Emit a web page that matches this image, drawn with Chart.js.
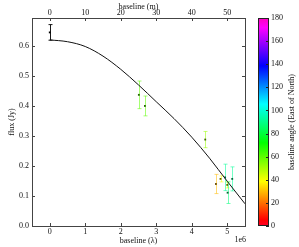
<!DOCTYPE html>
<html>
<head>
<meta charset="utf-8">
<script src="https://cdn.jsdelivr.net/npm/chart.js@4"></script>
<style>
  html, body { margin: 0; padding: 0; background: #fff; }
  #wrap { width: 299px; height: 247px; }
</style>
</head>
<body>
<div id="wrap"><canvas id="uvplot"></canvas></div>
<script>
// measured visibilities
const baseline = [0, 2.51e6, 2.68e6, 4.38e6, 4.68e6, 4.81e6, 4.94e6, 5.00e6, 5.01e6, 5.14e6];
const flux = [0.645, 0.437, 0.400, 0.288, 0.140, 0.157, 0.162, 0.137, 0.111, 0.157];
const fluxErr = [0.026, 0.046, 0.033, 0.027, 0.032, 0.010, 0.044, 0.010, 0.036, 0.040];
const angle = [null, 60, 60, 52, 30, 40, 92, 42, 88, 92];

// model curve
const modelBaseline = [0, 0.5e6, 1e6, 1.5e6, 2e6, 2.5e6, 3e6, 3.5e6, 4e6, 4.5e6, 5e6, 5.5e6];
const modelFlux = [0.620, 0.614, 0.598, 0.566, 0.522, 0.470, 0.414, 0.358, 0.296, 0.226, 0.149, 0.074];

// ticks
const xTicks = [0, 1e6, 2e6, 3e6, 4e6, 5e6];
const xTopTicks = [0, 10, 20, 30, 40, 50];
const yTicks = [0, 0.1, 0.2, 0.3, 0.4, 0.5, 0.6];
const angleTicks = [0, 20, 40, 60, 80, 100, 120, 140, 160, 180];

// gist_rainbow-like colormap
const cmap = [
  [0, [255, 0, 41]], [0.03, [255, 0, 0]], [0.215, [255, 255, 0]], [0.4, [0, 255, 0]],
  [0.586, [0, 255, 255]], [0.77, [0, 0, 255]], [0.954, [255, 0, 255]], [1, [255, 0, 191]]
];

function cmapRgb(t) {
  for (let i = 1; i < cmap.length; i++) {
    if (t <= cmap[i][0]) {
      const [t0, c0] = cmap[i - 1], [t1, c1] = cmap[i];
      const f = (t - t0) / (t1 - t0);
      return c0.map((c, k) => Math.round(c + (c1[k] - c) * f));
    }
  }
  return cmap[cmap.length - 1][1];
}

function barColor(a) {
  if (a === null) return 'rgba(0,0,0,0.9)';
  const c = cmapRgb(a / 180);
  return `rgba(${c[0]},${c[1]},${c[2]},0.55)`;
}

function markColor(a) {
  if (a === null) return '#000';
  const c = cmapRgb(a / 180).map(v => Math.round(v * 0.4));
  return `rgb(${c[0]},${c[1]},${c[2]})`;
}

const serif = { family: 'Liberation Serif', size: 8 };

// fixed box sizes, no extra label margins
function fixBox(w, h) {
  return s => {
    if (w !== null) s.width = w;
    if (h !== null) s.height = h;
    s.paddingTop = s.paddingBottom = s.paddingLeft = s.paddingRight = 0;
  };
}

const errorBars = {
  id: 'errorBars',
  beforeDatasetsDraw(chart) {
    const { ctx, scales: { x, y } } = chart;
    ctx.save();
    ctx.lineWidth = 1;
    baseline.forEach((b, i) => {
      const px = Math.round(x.getPixelForValue(b)) + 0.5;
      const top = y.getPixelForValue(flux[i] + fluxErr[i]);
      const bot = y.getPixelForValue(flux[i] - fluxErr[i]);
      ctx.strokeStyle = barColor(angle[i]);
      ctx.beginPath();
      ctx.moveTo(px, top); ctx.lineTo(px, bot);
      ctx.moveTo(px - 2, top); ctx.lineTo(px + 2, top);
      ctx.moveTo(px - 2, bot); ctx.lineTo(px + 2, bot);
      ctx.stroke();
    });
    ctx.restore();
  }
};

const frame = {
  id: 'frame',
  afterDraw(chart) {
    const { ctx, chartArea: a, scales: { x, x2, y, cb } } = chart;
    ctx.save();
    ctx.strokeStyle = '#444';
    ctx.lineWidth = 1;
    ctx.strokeRect(Math.round(a.left) + 0.5, Math.round(a.top) + 0.5,
      Math.round(a.right - a.left), Math.round(a.bottom - a.top));

    // inward ticks on all four sides
    ctx.beginPath();
    xTicks.forEach(v => {
      const px = Math.round(x.getPixelForValue(v)) + 0.5;
      ctx.moveTo(px, a.bottom); ctx.lineTo(px, a.bottom - 3);
    });
    xTopTicks.forEach(v => {
      const px = Math.round(x2.getPixelForValue(v)) + 0.5;
      ctx.moveTo(px, a.top); ctx.lineTo(px, a.top + 3);
    });
    yTicks.forEach(v => {
      const py = Math.round(y.getPixelForValue(v)) + 0.5;
      ctx.moveTo(a.left, py); ctx.lineTo(a.left + 3, py);
      ctx.moveTo(a.right, py); ctx.lineTo(a.right - 3, py);
    });
    ctx.stroke();

    // colorbar
    const cbL = a.right + 13, cbR = a.right + 24;
    const grad = ctx.createLinearGradient(0, cb.bottom, 0, cb.top);
    cmap.forEach(([t, c]) => grad.addColorStop(t, `rgb(${c[0]},${c[1]},${c[2]})`));
    ctx.fillStyle = grad;
    ctx.fillRect(cbL, cb.top, cbR - cbL, cb.bottom - cb.top);
    ctx.strokeStyle = '#222';
    ctx.strokeRect(cbL + 0.5, Math.round(cb.top) + 0.5, cbR - cbL - 1, Math.round(cb.bottom - cb.top) - 1);
    ctx.beginPath();
    angleTicks.forEach(v => {
      const py = Math.round(cb.getPixelForValue(v)) + 0.5;
      ctx.moveTo(cbR, py); ctx.lineTo(cbR - 3, py);
    });
    ctx.stroke();

    // colorbar label, reads bottom to top
    ctx.fillStyle = '#111';
    ctx.font = '8px "Liberation Serif"';
    ctx.textAlign = 'center';
    ctx.textBaseline = 'middle';
    ctx.translate(292, (cb.top + cb.bottom) / 2);
    ctx.rotate(-Math.PI / 2);
    ctx.fillText('baseline angle (East of North)', 0, 0);
    ctx.restore();

    // offset text for the bottom axis
    ctx.save();
    ctx.fillStyle = '#111';
    ctx.font = '8px "Liberation Serif"';
    ctx.textAlign = 'right';
    ctx.textBaseline = 'middle';
    ctx.fillText('1e6', a.right + 1, 240);
    ctx.restore();
  }
};

new Chart(document.getElementById('uvplot'), {
  type: 'scatter',
  data: {
    datasets: [
      {
        label: 'model',
        data: modelBaseline.map((b, i) => ({ x: b, y: modelFlux[i] })),
        showLine: true,
        borderColor: '#111',
        borderWidth: 1,
        pointRadius: 0,
        cubicInterpolationMode: 'monotone'
      },
      {
        label: 'data',
        data: baseline.map((b, i) => ({ x: b, y: flux[i] })),
        pointRadius: 1.3,
        pointStyle: 'rect',
        borderWidth: 0,
        backgroundColor: angle.map(markColor)
      }
    ]
  },
  options: {
    responsive: true,
    maintainAspectRatio: false,
    animation: false,
    layout: { padding: 0 },
    plugins: { legend: { display: false }, tooltip: { enabled: false } },
    scales: {
      x: {
        type: 'linear', position: 'bottom', min: -0.5e6, max: 5.5e6,
        afterBuildTicks: s => { s.ticks = xTicks.map(v => ({ value: v })); },
        afterFit: fixBox(null, 21),
        grid: { display: false, drawTicks: false }, border: { display: false },
        ticks: { font: serif, color: '#111', padding: 1, maxRotation: 0,
          callback: v => String(v / 1e6) },
        title: { display: true, text: 'baseline (λ)', font: serif, color: '#111', padding: { top: 0, bottom: 1 } }
      },
      x2: {
        type: 'linear', position: 'top', min: -5, max: 55,
        afterBuildTicks: s => { s.ticks = xTopTicks.map(v => ({ value: v })); },
        afterFit: fixBox(null, 18),
        grid: { display: false, drawTicks: false }, border: { display: false },
        ticks: { font: serif, color: '#111', padding: 0, maxRotation: 0 },
        title: { display: true, text: 'baseline (m)', font: serif, color: '#111', padding: { top: 2, bottom: 0 } }
      },
      y: {
        type: 'linear', position: 'left', min: 0, max: 0.693,
        afterBuildTicks: s => { s.ticks = yTicks.map(v => ({ value: v })); },
        afterFit: fixBox(32, null),
        grid: { display: false, drawTicks: false }, border: { display: false },
        ticks: { font: serif, color: '#111', padding: 3, callback: v => v.toFixed(1) },
        title: { display: true, text: 'flux (Jy)', font: serif, color: '#111', padding: { top: 7, bottom: 0 } }
      },
      cb: {
        type: 'linear', position: 'right', min: 0, max: 180,
        afterBuildTicks: s => { s.ticks = angleTicks.map(v => ({ value: v })); },
        afterFit: fixBox(54, null),
        grid: { display: false, drawTicks: false }, border: { display: false },
        ticks: { font: serif, color: '#111', padding: 26 }
      }
    }
  },
  plugins: [errorBars, frame]
});
</script>
</body>
</html>
